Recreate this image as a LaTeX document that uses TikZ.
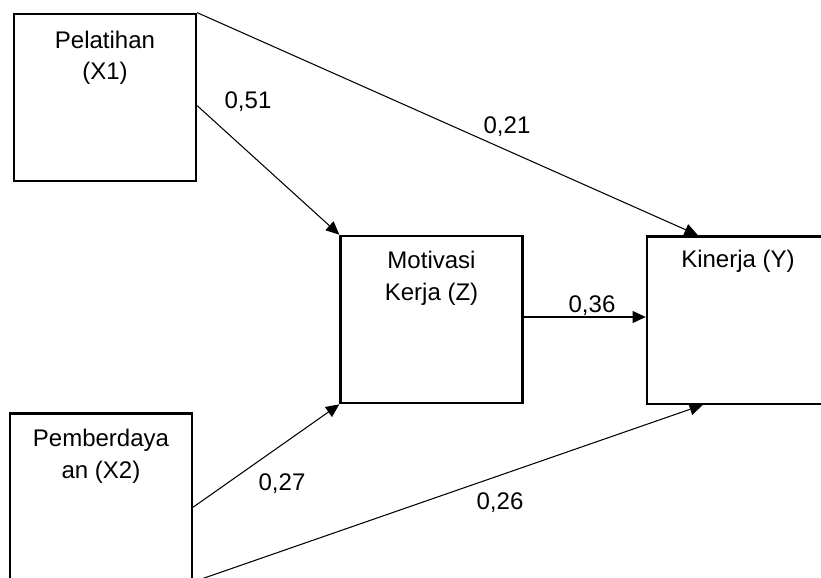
\documentclass[tikz,border=0pt]{standalone}
\usepackage{fontspec}
\setmainfont{Liberation Sans}
\usetikzlibrary{arrows.meta, calc, positioning}

\begin{document}
\begin{tikzpicture}[x=0.03cm, y=-0.03cm,
    box/.style={draw, line width=2pt, minimum width=5.46cm, minimum height=5.02cm, inner sep=0pt},
    lbl/.style={anchor=base, align=center, inner sep=0pt, font=\fontsize{20.5}{26.9}\selectfont},
    coef/.style={inner sep=0pt, font=\fontsize{20.5}{24}\selectfont},
    arr/.style={line width=0.9pt, -{Triangle[length=0.4cm, width=0.36cm]}}]
    \useasboundingbox (0,0) rectangle (821,577);
    \clip (0,0) rectangle (821,577);
    % kotak variabel
    \node[box] (x1) at (105,97.5) {};
    \node[box] (x2) at (101,497) {};
    \node[box] (z) at (431.5,319.5) {};
    \node[box] (y) at (738,320) {};
    \node[lbl] (x1t) at ($(x1.north)+(0,67)$) {Pelatihan\\(X1)};
    \node[lbl] (x2t) at ($(x2.north)+(0,66)$) {Pemberdaya\\an (X2)};
    \node[lbl] (zt) at ($(z.north)+(0,65.5)$) {Motivasi\\Kerja (Z)};
    \node[lbl] (yt) at ($(y.north)+(0,32)$) {Kinerja (Y)};
    % jalur
    \coordinate (x1r) at ($(x1.north east)+(0,93)$);
    \coordinate (x2r) at ($(x2.north east)+(0,95)$);
    \coordinate (zr) at ($(z.east)+(0,-2.5)$);
    \coordinate (yin1) at ($(y.north west)+(52,0)$);
    \coordinate (yin2) at ($(y.south west)+(57,0)$);
    \draw[arr] (x1.north east) -- (yin1);
    \draw[arr] (x1r) -- (z.north west);
    \draw[arr] (zr) -- (zr -| y.west);
    \draw[arr] (x2r) -- (z.south west);
    \draw[arr] (x2.south east) -- (yin2);
    % koefisien
    \node[coef] (c21) at (507,127) {0,21};
    \node[coef] (c51) at (248,102) {0,51};
    \node[coef] (c36) at (592,306) {0,36};
    \node[coef] (c27) at (282,484) {0,27};
    \node[coef] (c26) at (500,503) {0,26};
\end{tikzpicture}
\end{document}
